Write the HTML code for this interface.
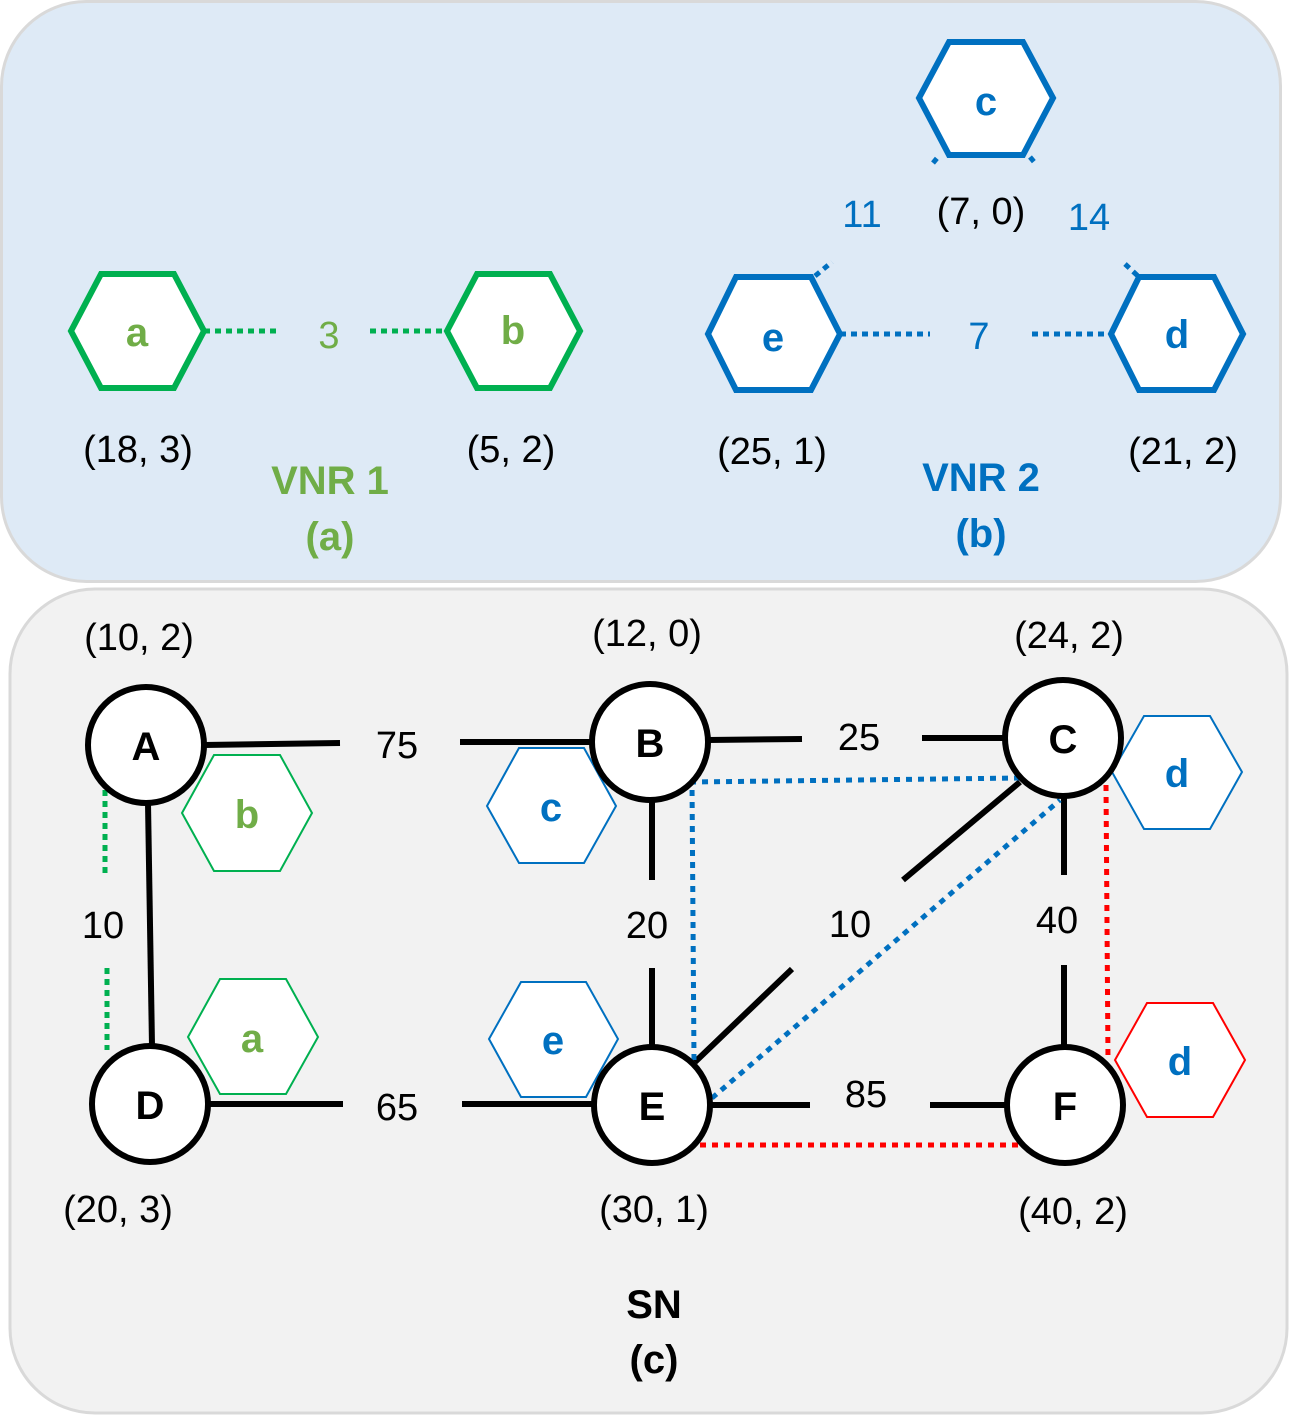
<!DOCTYPE html>
<html><head><meta charset="utf-8"><style>
html,body{margin:0;padding:0;background:#fff}
svg{display:block}
text{font-family:"Liberation Sans",sans-serif;font-size:38px;text-anchor:middle;dominant-baseline:central}
.b{font-weight:bold;font-size:40px}
</style></head><body>
<svg width="1290" height="1416" viewBox="0 0 1290 1416" xmlns="http://www.w3.org/2000/svg">
<rect x="1.5" y="1.5" width="1279" height="580" rx="85" fill="#deeaf6" stroke="#d9d9d9" stroke-width="3"/>
<rect x="10" y="589" width="1277" height="824" rx="85" fill="#f2f2f2" stroke="#d9d9d9" stroke-width="3"/>

<g stroke="#00b050" stroke-width="5" stroke-dasharray="6 5" fill="none">
<line x1="204" y1="331" x2="280" y2="331"/><line x1="370" y1="331" x2="447" y2="331"/>
</g>
<g stroke="#00b050" stroke-width="6" fill="#fff">
<polygon points="71,331 101,274 174,274 204,331 174,388 101,388"/>
<polygon points="447,331 477,274 550,274 580,331 550,388 477,388"/>
</g>
<text x="137" y="333" class="b" fill="#70ad47">a</text>
<text x="513" y="331" class="b" fill="#70ad47">b</text>
<text x="329" y="336" fill="#70ad47">3</text>

<g stroke="#0070c0" stroke-width="5" stroke-dasharray="6 5" fill="none">
<line x1="840" y1="334" x2="930" y2="334"/><line x1="1032" y1="334" x2="1111" y2="334"/>
<line x1="933" y1="163" x2="938" y2="157"/><line x1="1030" y1="157" x2="1035" y2="163"/>
<line x1="815" y1="276" x2="832" y2="262"/><line x1="1125" y1="264" x2="1140" y2="278"/>
</g>
<g stroke="#0070c0" stroke-width="6" fill="#fff">
<polygon points="919,98 949,42 1023,42 1053,98 1023,155 949,155"/>
<polygon points="708,334 736,277 811,277 840,334 811,390 736,390"/>
<polygon points="1111,334 1139,277 1214,277 1243,334 1214,390 1139,390"/>
</g>
<text x="986" y="102" class="b" fill="#0070c0">c</text>
<text x="773" y="338" class="b" fill="#0070c0">e</text>
<text x="1177" y="335" class="b" fill="#0070c0">d</text>
<text x="979" y="337" fill="#0070c0">7</text>
<text x="862" y="215" fill="#0070c0">11</text>
<text x="1089" y="218" fill="#0070c0">14</text>
<text x="981" y="212">(7, 0)</text>
<text x="138" y="450">(18, 3)</text>
<text x="511" y="450">(5, 2)</text>
<text x="772" y="452">(25, 1)</text>
<text x="1183" y="452">(21, 2)</text>
<text x="330" y="481" class="b" fill="#70ad47">VNR 1</text>
<text x="330" y="537" class="b" fill="#70ad47">(a)</text>
<text x="981" y="478" class="b" fill="#0070c0">VNR 2</text>
<text x="981" y="534" class="b" fill="#0070c0">(b)</text>

<g stroke="#000" stroke-width="6" fill="none">
<line x1="204" y1="745" x2="340" y2="743"/><line x1="460" y1="742" x2="592" y2="742"/>
<line x1="708" y1="740" x2="802" y2="739"/><line x1="922" y1="738" x2="1005" y2="738"/>
<line x1="148" y1="803" x2="152" y2="1046"/>
<line x1="208" y1="1104" x2="343" y2="1104"/><line x1="462" y1="1104" x2="594" y2="1104"/>
<line x1="652" y1="800" x2="652" y2="880"/><line x1="652" y1="968" x2="652" y2="1047"/>
<line x1="1064" y1="796" x2="1064" y2="875"/><line x1="1064" y1="965" x2="1064" y2="1047"/>
<line x1="710" y1="1105" x2="810" y2="1105"/><line x1="930" y1="1105" x2="1007" y2="1105"/>
<line x1="695" y1="1062" x2="792" y2="969"/><line x1="903" y1="880" x2="1020" y2="782"/>
</g>
<g stroke="#00b050" stroke-width="5" stroke-dasharray="6 5" fill="none">
<line x1="105" y1="790" x2="105" y2="875"/><line x1="107" y1="968" x2="107" y2="1050"/>
</g>
<g stroke="#0070c0" stroke-width="5" stroke-dasharray="6 6" fill="none">
<polyline points="1020,778 692,782 694,1060"/>
<line x1="712" y1="1098" x2="1060" y2="800"/>
</g>
<g stroke="#ff0000" stroke-width="5" stroke-dasharray="6 6" fill="none">
<line x1="1106" y1="785" x2="1108" y2="1060"/>
<line x1="700" y1="1145" x2="1020" y2="1145"/>
</g>
<text x="397" y="746">75</text>
<text x="859" y="738">25</text>
<text x="103" y="926">10</text>
<text x="397" y="1108">65</text>
<text x="647" y="926">20</text>
<text x="1057" y="921">40</text>
<text x="866" y="1095">85</text>
<text x="850" y="925">10</text>

<g stroke-width="2" fill="#fff">
<polygon stroke="#00b050" points="182,813 214,755 280,755 312,813 280,871 214,871"/>
<polygon stroke="#00b050" points="188,1037 220,979 286,979 318,1037 286,1094 220,1094"/>
<polygon stroke="#0070c0" points="487,806 519,748 584,748 616,806 584,863 519,863"/>
<polygon stroke="#0070c0" points="489,1039 521,982 586,982 618,1039 586,1097 521,1097"/>
<polygon stroke="#0070c0" points="1112,772 1144,716 1210,716 1242,772 1210,829 1144,829"/>
<polygon stroke="#ff0000" points="1115,1060 1147,1003 1213,1003 1245,1060 1213,1117 1147,1117"/>
</g>
<text x="247" y="815" class="b" fill="#70ad47">b</text>
<text x="252" y="1039" class="b" fill="#70ad47">a</text>
<text x="551" y="808" class="b" fill="#0070c0">c</text>
<text x="553" y="1041" class="b" fill="#0070c0">e</text>
<text x="1177" y="774" class="b" fill="#0070c0">d</text>
<text x="1180" y="1062" class="b" fill="#0070c0">d</text>

<g stroke="#000" stroke-width="6" fill="#fff">
<circle cx="146" cy="745" r="58"/><circle cx="650" cy="742" r="58"/><circle cx="1063" cy="738" r="58"/>
<circle cx="150" cy="1104" r="58"/><circle cx="652" cy="1105" r="58"/><circle cx="1065" cy="1105" r="58"/>
</g>
<text x="146" y="747" class="b">A</text>
<text x="650" y="744" class="b">B</text>
<text x="1063" y="740" class="b">C</text>
<text x="150" y="1106" class="b">D</text>
<text x="652" y="1107" class="b">E</text>
<text x="1065" y="1107" class="b">F</text>
<text x="139" y="638">(10, 2)</text>
<text x="647" y="634">(12, 0)</text>
<text x="1069" y="636">(24, 2)</text>
<text x="118" y="1210">(20, 3)</text>
<text x="654" y="1210">(30, 1)</text>
<text x="1073" y="1212">(40, 2)</text>
<text x="654" y="1305" class="b">SN</text>
<text x="654" y="1360" class="b">(c)</text>
</svg>
</body></html>
